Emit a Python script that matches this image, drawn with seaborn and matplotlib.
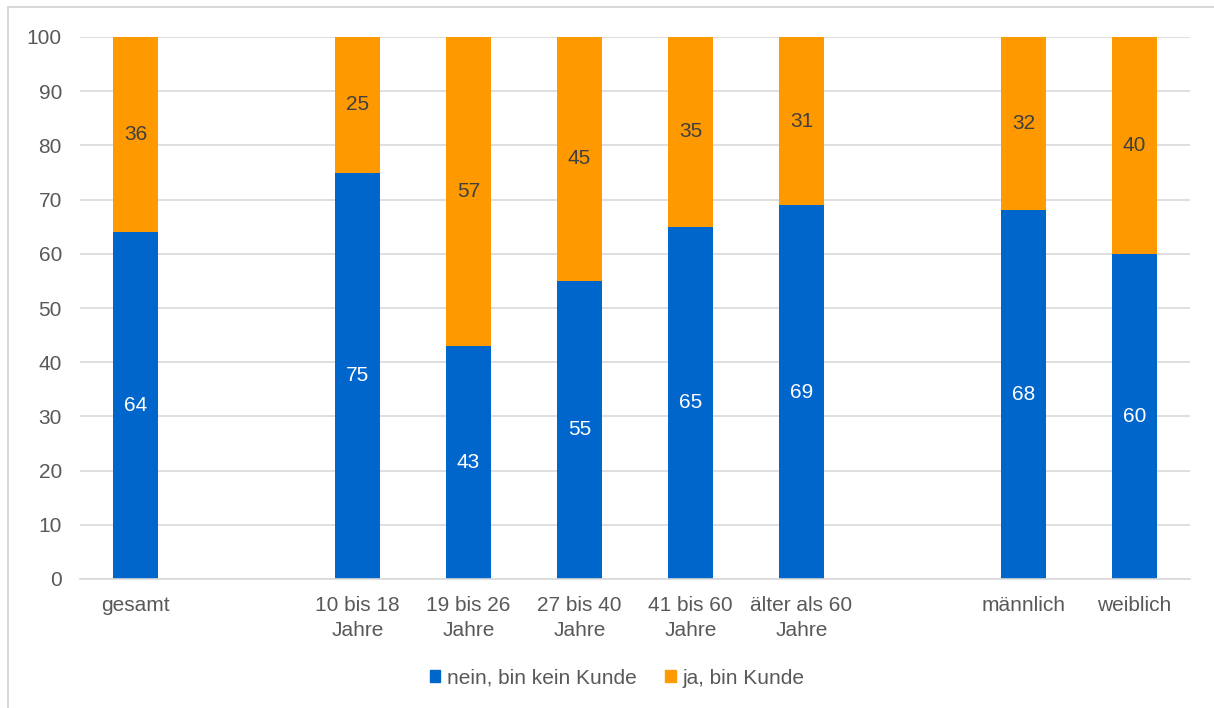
import matplotlib
matplotlib.use("Agg")
import matplotlib.pyplot as plt
import pandas as pd
import seaborn as sns
from matplotlib.lines import Line2D
from matplotlib.patches import Patch

sns.set_theme(style="white")
plt.rcParams["font.family"] = ["Liberation Sans", "DejaVu Sans"]

# slots with blank spacers between groups
slots = ["gesamt", "_a", "10 bis 18\nJahre", "19 bis 26\nJahre", "27 bis 40\nJahre",
         "41 bis 60\nJahre", "älter als 60\nJahre", "_b", "männlich", "weiblich"]
categories = ["gesamt", "10 bis 18\nJahre", "19 bis 26\nJahre", "27 bis 40\nJahre",
              "41 bis 60\nJahre", "älter als 60\nJahre", "männlich", "weiblich"]
nein = [64, 75, 43, 55, 65, 69, 68, 60]
ja = [36, 25, 57, 45, 35, 31, 32, 40]

BLUE = "#0066CC"
ORANGE = "#FF9900"
TXT = "#595959"
FS = 15

df = pd.DataFrame({"cat": categories, "nein": nein, "ja": ja})
df["total"] = df["nein"] + df["ja"]

fig = plt.figure(figsize=(12.14, 7.08), dpi=100)
ax = fig.add_axes([80 / 1214, 1 - 579 / 708, 1110 / 1214, 542 / 708])

sns.barplot(data=df, x="cat", y="total", order=slots, color=ORANGE,
            saturation=1, width=0.4, linewidth=0, ax=ax, zorder=3)
sns.barplot(data=df, x="cat", y="nein", order=slots, color=BLUE,
            saturation=1, width=0.4, linewidth=0, ax=ax, zorder=3)

for _, r in df.iterrows():
    x = slots.index(r["cat"])
    ax.text(x, r["nein"] / 2, f"{r['nein']}", ha="center", va="center",
            color="white", fontsize=FS, zorder=4)
    ax.text(x, r["nein"] + r["ja"] / 2, f"{r['ja']}", ha="center", va="center",
            color="#404040", fontsize=FS, zorder=4)

ax.set_xlim(-0.5, len(slots) - 0.5)
ax.set_ylim(0, 100)
ax.set_yticks(range(0, 101, 10))
ax.set_xticks(range(len(slots)))
ax.set_xticklabels([s if not s.startswith("_") else "" for s in slots],
                   linespacing=1.45)
ax.tick_params(axis="both", length=0, labelsize=FS, labelcolor=TXT)
ax.tick_params(axis="x", pad=12)
ax.tick_params(axis="y", pad=13)
ax.set_xlabel("")
ax.set_ylabel("")
ax.yaxis.grid(True, color="#D9D9D9", linewidth=1.2, zorder=0)
for s in ["top", "right", "left"]:
    ax.spines[s].set_visible(False)
ax.spines["bottom"].set_color("#D9D9D9")
ax.spines["bottom"].set_linewidth(1.2)
ax.spines["bottom"].set_zorder(5)

handles = [Patch(color=BLUE, label="nein, bin kein Kunde"),
           Patch(color=ORANGE, label="ja, bin Kunde")]
fig.legend(handles=handles, loc="center", bbox_to_anchor=(617 / 1214, 1 - 678 / 708),
           ncol=2, frameon=False, fontsize=FS, labelcolor=TXT,
           handlelength=0.5, handleheight=0.5, handletextpad=0.3, columnspacing=1.4)

# chart-area frame (only left and top edges are visible in the crop)
fig.add_artist(Line2D([8 / 1214, 8 / 1214], [0, 1 - 7 / 708], transform=fig.transFigure,
                      color="#D9D9D9", linewidth=1.5))
fig.add_artist(Line2D([8 / 1214, 1], [1 - 7 / 708, 1 - 7 / 708], transform=fig.transFigure,
                      color="#D9D9D9", linewidth=1.5))

fig.savefig("out.png", dpi=100)
